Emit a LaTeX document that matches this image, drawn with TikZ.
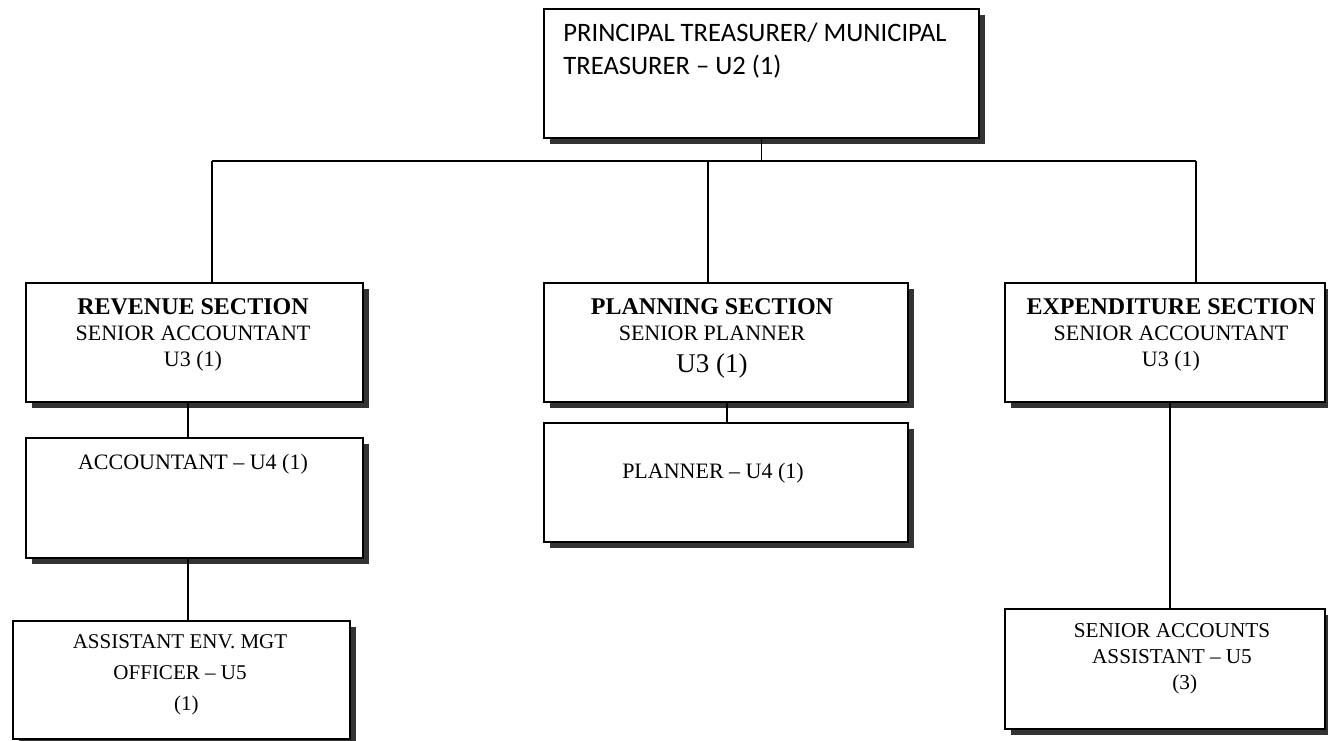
\documentclass[tikz,border=0pt]{standalone}
\usepackage{fontspec}
\setmainfont{Liberation Serif}
\newfontfamily\calib{Carlito}
\usetikzlibrary{shadows}
\tikzset{
  orgbox/.style={draw=black, fill=white, line width=0.9pt, rectangle, inner sep=0pt, anchor=north west,
    drop shadow={shadow xshift=2.8pt, shadow yshift=-2.8pt, fill=black!80, opacity=1}},
  conn/.style={draw=black, line width=0.75pt},
  txt/.style={inner sep=0pt, anchor=north, align=center, font=\fontsize{11}{13}\selectfont},
  head/.style={font=\bfseries\fontsize{12}{13}\selectfont},
}
\begin{document}
\begin{tikzpicture}[x=0.5pt, y=-0.5pt]
\useasboundingbox (0,0) rectangle (1328,740);

\coordinate (j1) at (212,161);
\coordinate (j2) at (708,161);
\coordinate (j3) at (1196,161);
\coordinate (cRev) at (188,0);
\coordinate (cPlan) at (727,0);
\coordinate (cExp) at (1170,0);

% boxes
\node[orgbox, minimum width=217.5pt, minimum height=64.5pt] (top) at (543,8) {};
\node[orgbox, minimum width=168.5pt, minimum height=59.5pt] (rev) at (25,282) {};
\node[orgbox, minimum width=168.5pt, minimum height=60pt] (acc) at (25,437) {};
\node[orgbox, minimum width=168.5pt, minimum height=59pt] (asst) at (12,620) {};
\node[orgbox, minimum width=182pt, minimum height=59.5pt] (plan) at (543,282) {};
\node[orgbox, minimum width=182pt, minimum height=59.5pt] (planner) at (543,422) {};
\node[orgbox, minimum width=160pt, minimum height=59.5pt] (exp) at (1004,282) {};
\node[orgbox, minimum width=160pt, minimum height=60pt] (sracc) at (1004,608) {};

% connectors
\draw[conn] (top.south) -- (top.south |- j2);
\draw[conn] (j1) -- (j3);
\draw[conn] (j1) -- (j1 |- rev.north);
\draw[conn] (j2) -- (j2 |- plan.north);
\draw[conn] (j3) -- (j3 |- exp.north);
\draw[conn] (cRev |- rev.south) -- (cRev |- acc.north);
\draw[conn] (cRev |- acc.south) -- (cRev |- asst.north);
\draw[conn] (cPlan |- plan.south) -- (cPlan |- planner.north);
\draw[conn] (cExp |- exp.south) -- (cExp |- sracc.north);

% texts
\node[inner sep=0pt, anchor=north west, align=left, font=\calib\fontsize{13.3}{16.5}\selectfont] (topT) at (563,23)
  {PRINCIPAL TREASURER/ MUNICIPAL\\TREASURER – U2 (1)};
\node[txt] (revT) at (193,298) {{\bfseries\fontsize{12}{13}\selectfont REVENUE SECTION}\\SENIOR ACCOUNTANT\\U3 (1)};
\node[txt] (accT) at (193,454) {ACCOUNTANT – U4 (1)};
\node[txt, font=\fontsize{10.5}{15.5}\selectfont] (asstT) at (180,634) {ASSISTANT ENV. MGT\\OFFICER – U5\\\hspace{0.6em}(1)};
\node[txt] (planT) at (712,298) {{\bfseries\fontsize{12}{13}\selectfont PLANNING SECTION}\\SENIOR PLANNER\\[3pt]{\fontsize{13.5}{13}\selectfont U3 (1)}};
\node[txt] (plannerT) at (713,463) {PLANNER – U4 (1)};
\node[txt] (expT) at (1171,298) {{\bfseries\fontsize{12}{13}\selectfont EXPENDITURE SECTION}\\SENIOR ACCOUNTANT\\U3 (1)};
\node[txt, font=\fontsize{10.6}{13}\selectfont] (sraccT) at (1172,623) {SENIOR ACCOUNTS\\ASSISTANT – U5\\\hspace{1.2em}(3)};
\end{tikzpicture}
\end{document}
